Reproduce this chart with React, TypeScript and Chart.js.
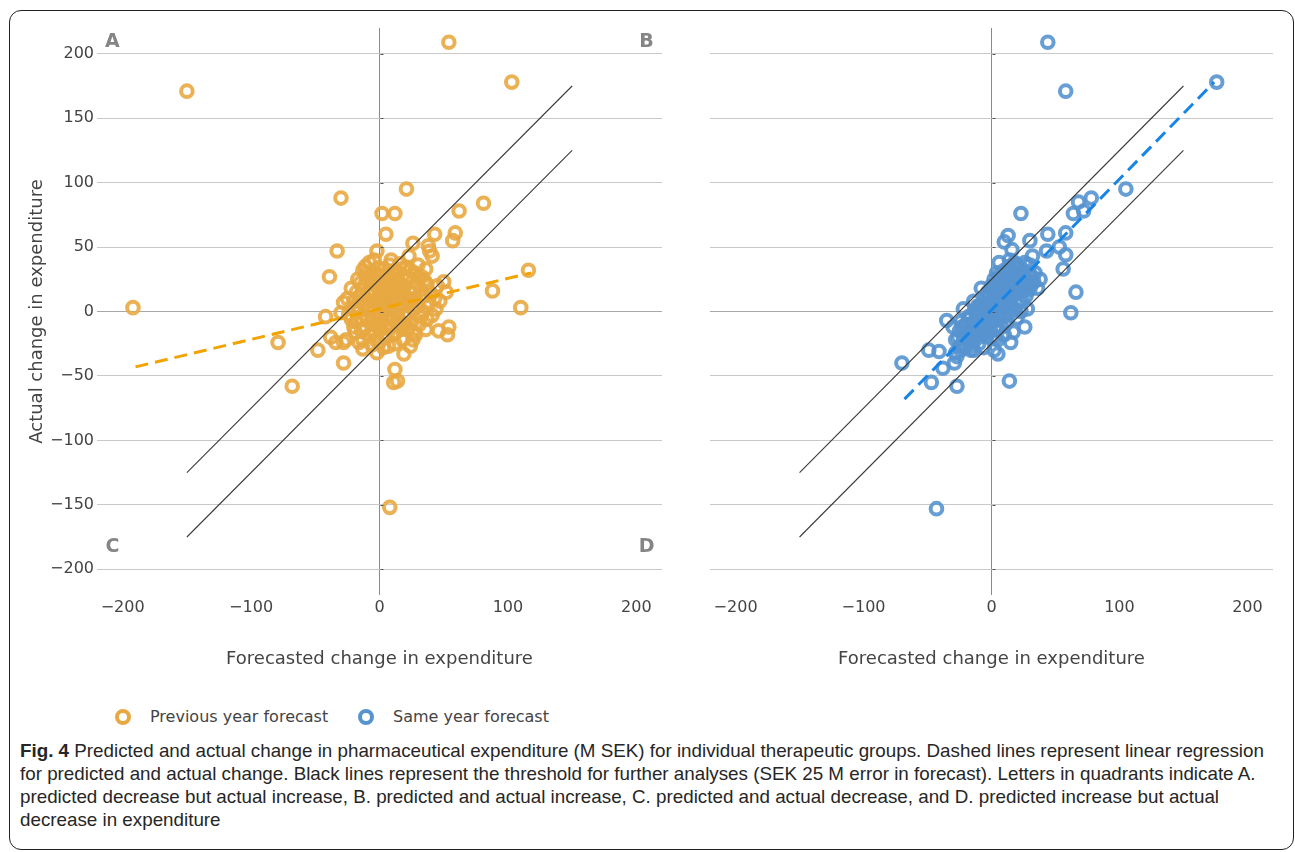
import React, { useEffect, useLayoutEffect, useRef } from 'react';
import { Chart, registerables } from 'chart.js';

Chart.register(...registerables);

// ---- Data (M SEK) ----
const prevForecast = [
  -192, -150, 54, 103, 21, -30, 2, 12, 81, 62, 5, 26, 43, 59, 57, -33, -2, 23, 38, 39, 41, -39, -11, 36, 50, 52, 88, 110, 116,
  -42, -28, -30, 37, 46, 53, 54, -38, -34, -28, -26, -48, -28, -13, -2, 7, 19, 24, 12, 11, 14, -79, -68, 8,
  -25, -22, -20, -18, -17, -15, -14, -12, -12, -10, -10, -9, -8, -7, -6, -5, -5, -4, -3, -3, -2, -1, 0, 0, 1, 1, 2, 2, 3, 4, 4,
  5, 5, 6, 6, 7, 8, 8, 9, 9, 10, 10, 11, 12, 12, 13, 14, 14, 15, 16, 16, 17, 18, 18, 19, 20, 20, 21, 22, 22, 23, 24, 25, 26,
  27, 28, 28, 29, 30, 31, 32, 33, 34, 35, 36, 37, 38, 40, 41, 43, 45, -16, -20, -24, -8, -13, 3, 12, 26, 30, 44, 47,
  -20, -18, -16, -15, -14, -12, -11, -10, -9, -8, -7, -6, -5, -4, -3, -2, -1, 0, 1, 2, 3, 4, 5, 6, 7, 8, 9, 10, 11, 12,
  13, 14, 15, 16, 17, 18, 19, 20, 21, 22, 23, 24, 25, 26, 27, 29, 30, 32, 33, 35, -22, -19, -13, -6, 0, 6, -17, -1, 9, -4,
];
const prevActual = [
  3, 171, 209, 178, 95, 88, 76, 76, 84, 78, 60, 53, 60, 61, 55, 47, 47, 43, 51, 47, 43, 27, 35, 33, 23, 15, 16, 3, 32,
  -4, 7, -1, -6, -15, -18, -12, -20, -24, -24, -22, -30, -40, -29, -32, -27, -33, -27, -45, -55, -54, -24, -58, -152,
  10, 18, 2, -8, 25, 12, -15, 5, 20, -5, 30, 14, -18, 8, 22, -10, 2, 16, 28, -22, 6, -4, 12, 20, -14, 3, 26, -8, 9, 33, -20,
  15, 0, -3, 22, 6, 36, -12, 11, 28, -6, 2, 18, 32, -17, 8, 24, -2, 14, 37, -10, 4, 28, -22, 12, 20, -4, 34, 6, -14, 26, 15, -8, 2,
  30, 10, -18, 22, 4, -10, 17, 27, 0, 12, -14, 21, 6, 14, -3, 10, 20, -24, -12, -2, 38, 32, -28, -25, -22, 36, 2, 8,
  8, 15, 0, 22, -6, 12, -12, 24, 2, 28, -8, 14, 30, -15, 8, 20, -10, 28, 16, -2, 22, 4, -12, 30, 18, -6, 24, 8, -18, 14,
  30, -8, 20, 6, -14, 16, 34, -10, 10, 26, -2, 32, 8, -16, 18, 4, 26, -4, 12, 24, -6, -16, -22, -26, -24, -18, 4, 34, 40, 40,
];

const sameForecast = [
  44, 58, 176, 105, 68, 78, 64, 72, 23, 13, 10, 16, 30, 44, 58, 53, 58, 43, 32, 6,
  -70, -35, -49, -41, -29, -38, -47, -27, 14, 5, 17, 62, -43, -25, -16, 56, 66, 31, 33, 30, 28,
  -28, -25, -24, -22, -20, -20, -18, -17, -15, -14, -13, -12, -11, -10, -9, -8, -7, -6, -5, -5, -4, -3, -3, -2, -1, 0, 0,
  1, 1, 2, 3, 3, 4, 5, 5, 6, 7, 7, 8, 9, 10, 10, 11, 12, 12, 13, 14, 14, 15, 16, 17, 18, 18, 19, 20, 21, 22, 23, 24, 25,
  26, 27, 28, 29, 30, 32, 34, -30, -27, -16, -10, 0, 5, 10, 15, -8, -14, 20, 23, 26, -6, 2, -22, 38, 36, 4, 8, -2, 12,
  -26, -23, -21, -19, -17, -15, -13, -12, -10, -9, -8, -7, -6, -5, -4, -3, -2, -1, 0, 1, 2, 3, 4, 5, 6, 7, 8, 9, 10, 11,
  12, 13, 14, 15, 16, 17, 18, 19, 20, 21, 22, 23, 24, 25, 26, 27, 28, -18, -11, 3, 8, -28, -24, 12, 30, 18, -14, 4, -2, 14,
];
const sameActual = [
  209, 171, 178, 95, 85, 88, 76, 78, 76, 59, 54, 48, 55, 60, 61, 50, 44, 47, 43, 38,
  -40, -7, -30, -31, -40, -44, -55, -58, -54, -33, -16, -1, -153, -27, -27, 33, 15, 28, 23, 17, 2,
  -22, -15, -30, -20, -10, -25, -16, -5, -20, -12, 0, -8, -18, -3, 5, -12, 2, -6, 10, -15, 0, 15, -10, 6, -4, 20, 2,
  10, -8, 25, 4, -14, 16, 8, -2, 28, 12, -5, 20, 3, 32, 15, -10, 24, 6, 18, 35, -2, 10, 26, 20, 2, 30, 14, 36, 22, 8, 28, 16, 32,
  24, 12, 36, 20, 28, 22, 30, -12, -35, -30, -25, -20, -22, -18, -24, 18, 8, -5, 0, -12, -28, -30, 2, 25, 18, 30, 12, 14, 4,
  -20, -12, -28, -18, -10, -24, -14, -2, -16, -8, 4, -18, -2, 6, -10, 2, 12, -6, 8, 18, -4, 12, 22, 2, 14, 26, 6, 18, -4, 22,
  30, 10, 24, 4, 32, 14, 24, 6, 28, 16, 34, 20, 8, 26, 38, 18, 28, -4, 4, -20, -12, -32, -8, -8, 36, 38, -30, -12, -16, 40,
];

const prevFitX = [-190, 118];
const prevFitY = [-43, 30];
const sameFitX = [-68, 174];
const sameFitY = [-68, 178];

const thresholdX = [-150, 150];
const thresholdMargin = 25;

const quadrantLabels = ['A', 'B', 'C', 'D'];
const quadrantX = [-208, 208, -208, 208];
const quadrantY = [209, 209, -183, -183];

const axisMin = -220;
const axisMax = 220;

const xAxisTitle = 'Forecasted change in expenditure';
const yAxisTitle = 'Actual change in expenditure';
const legendLabels = ['Previous year forecast', 'Same year forecast'];

const ORANGE = 'rgba(232, 168, 66, 0.9)';
const BLUE = 'rgba(86, 148, 207, 0.9)';
const ORANGE_LINE = '#f2a300';
const BLUE_LINE = '#1784e6';

const FONT = '"DejaVu Sans", Verdana, sans-serif';

const fmt = (v: number) => (v < 0 ? '\u2212' + Math.abs(v) : String(v));

const quadrantPlugin = {
  id: 'quadrants',
  afterDatasetsDraw(chart: any, _args: any, opts: any) {
    const { ctx, scales } = chart;
    // small tick marks along the vertical zero line
    ctx.save();
    ctx.strokeStyle = '#555';
    ctx.lineWidth = 1;
    const x0 = Math.round(scales.x.getPixelForValue(0)) + 0.5;
    scales.y.ticks.forEach((t: any) => {
      const yy = Math.round(scales.y.getPixelForValue(t.value)) + 0.5;
      ctx.beginPath();
      ctx.moveTo(x0, yy);
      ctx.lineTo(x0 + 3, yy);
      ctx.stroke();
    });
    ctx.restore();
    if (!opts || !opts.show) return;
    ctx.save();
    ctx.font = `bold 19px ${FONT}`;
    ctx.fillStyle = '#858585';
    ctx.textAlign = 'center';
    ctx.textBaseline = 'middle';
    quadrantLabels.forEach((t, i) => {
      ctx.fillText(t, scales.x.getPixelForValue(quadrantX[i]), scales.y.getPixelForValue(quadrantY[i]));
    });
    ctx.restore();
  },
};

type PanelProps = {
  left: number;
  width: number;
  height: number;
  forecast: number[];
  actual: number[];
  color: string;
  fitX: number[];
  fitY: number[];
  fitColor: string;
  yAxisWidth: number;
  padRight: number;
  showYTicks: boolean;
  showQuadrants: boolean;
};

function Panel(p: PanelProps) {
  const ref = useRef<HTMLCanvasElement | null>(null);
  useEffect(() => {
    if (!ref.current) return;
    const chart = new Chart(ref.current, {
      type: 'scatter',
      data: {
        datasets: [
          {
            type: 'line',
            data: thresholdX.map((x) => ({ x, y: x + thresholdMargin })),
            borderColor: '#3a3a3a',
            borderWidth: 1.1,
            pointRadius: 0,
            order: 0,
          } as any,
          {
            type: 'line',
            data: thresholdX.map((x) => ({ x, y: x - thresholdMargin })),
            borderColor: '#3a3a3a',
            borderWidth: 1.1,
            pointRadius: 0,
            order: 0,
          } as any,
          {
            type: 'line',
            data: p.fitX.map((x, i) => ({ x, y: p.fitY[i] })),
            borderColor: p.fitColor,
            borderWidth: 3,
            borderDash: [13, 7],
            pointRadius: 0,
            order: 1,
          } as any,
          {
            type: 'scatter',
            data: p.forecast.map((x, i) => ({ x, y: p.actual[i] })),
            pointRadius: 5.8,
            pointBorderWidth: 4,
            pointBorderColor: p.color,
            pointBackgroundColor: 'rgba(0,0,0,0)',
            pointHoverRadius: 5.8,
            order: 2,
          } as any,
        ],
      },
      options: {
        responsive: false,
        maintainAspectRatio: false,
        animation: false,
        layout: { padding: { left: 0, right: p.padRight, top: 28, bottom: 0 } },
        plugins: {
          legend: { display: false },
          tooltip: { enabled: false },
          quadrants: { show: p.showQuadrants },
        } as any,
        scales: {
          x: {
            type: 'linear',
            min: axisMin,
            max: axisMax,
            border: { display: false },
            grid: {
              drawTicks: false,
              color: (c: any) => (c.tick && c.tick.value === 0 ? '#8a8a8a' : 'rgba(0,0,0,0)'),
              lineWidth: 1,
            },
            ticks: {
              stepSize: 100,
              includeBounds: false,
              padding: 3,
              color: '#444',
              font: { family: FONT, size: 16 },
              maxRotation: 0,
              callback: (v: any) => fmt(Number(v)),
            },
            title: {
              display: true,
              text: xAxisTitle,
              color: '#444',
              font: { family: FONT, size: 18 },
              padding: { top: 0, bottom: 20 },
            },
            afterFit: (s: any) => {
              s.height = 95;
            },
          },
          y: {
            type: 'linear',
            min: axisMin,
            max: axisMax,
            border: { display: false },
            grid: {
              drawTicks: false,
              color: (c: any) => (c.tick && c.tick.value === 0 ? '#a8a8a8' : '#c9c9c9'),
              lineWidth: 1,
            },
            ticks: {
              display: p.showYTicks,
              stepSize: 50,
              includeBounds: false,
              padding: 3,
              color: '#444',
              font: { family: FONT, size: 16 },
              callback: (v: any) => fmt(Number(v)),
            },
            title: {
              display: p.showYTicks,
              text: yAxisTitle,
              color: '#444',
              font: { family: FONT, size: 18 },
              padding: { top: 27, bottom: 0 },
            },
            afterFit: (s: any) => {
              s.width = p.yAxisWidth;
            },
          },
        },
      } as any,
      plugins: [quadrantPlugin],
    });
    return () => chart.destroy();
  }, []);
  return (
    <canvas
      ref={ref}
      width={p.width}
      height={p.height}
      style={{ position: 'absolute', left: p.left, top: 0, width: p.width, height: p.height }}
    />
  );
}

const captionLines = [
  'Predicted and actual change in pharmaceutical expenditure (M SEK) for individual therapeutic groups. Dashed lines represent linear regression',
  'for predicted and actual change. Black lines represent the threshold for further analyses (SEK 25 M error in forecast). Letters in quadrants indicate A.',
  'predicted decrease but actual increase, B. predicted and actual increase, C. predicted and actual decrease, and D. predicted increase but actual',
  'decrease in expenditure',
];
const captionFirstLineWidth = 1244;

function Ring({ left, color }: { left: number; color: string }) {
  return (
    <span
      style={{
        position: 'absolute',
        left,
        top: 709,
        width: 16,
        height: 16,
        boxSizing: 'border-box',
        border: `4px solid ${color}`,
        borderRadius: '50%',
      }}
    />
  );
}

export default function App() {
  const capFont = '"Liberation Sans Narrow", "Liberation Sans", Arial, sans-serif';
  const lineRefs = useRef<(HTMLDivElement | null)[]>([]);
  useLayoutEffect(() => {
    const first = lineRefs.current[0];
    if (!first) return;
    const w = first.scrollWidth;
    const s = w > 0 ? captionFirstLineWidth / w : 1;
    lineRefs.current.forEach((el) => {
      if (el) el.style.transform = `scaleX(${s})`;
    });
  }, []);
  return (
    <div style={{ position: 'absolute', left: 0, top: 0, width: 1295, height: 852, background: '#fff', overflow: 'hidden' }}>
      <div
        style={{
          position: 'absolute',
          left: 9,
          top: 10,
          width: 1285,
          height: 840,
          boxSizing: 'border-box',
          border: '1.5px solid #222',
          borderRadius: 12,
        }}
      />
      <Panel
        left={0}
        width={690}
        height={690}
        forecast={prevForecast}
        actual={prevActual}
        color={ORANGE}
        fitX={prevFitX}
        fitY={prevFitY}
        fitColor={ORANGE_LINE}
        yAxisWidth={97}
        padRight={28}
        showYTicks={true}
        showQuadrants={true}
      />
      <Panel
        left={690}
        width={605}
        height={690}
        forecast={sameForecast}
        actual={sameActual}
        color={BLUE}
        fitX={sameFitX}
        fitY={sameFitY}
        fitColor={BLUE_LINE}
        yAxisWidth={20}
        padRight={22}
        showYTicks={false}
        showQuadrants={false}
      />
      <Ring left={115} color="rgb(232,168,66)" />
      <span style={{ position: 'absolute', left: 150, top: 707, fontFamily: FONT, fontSize: 16, lineHeight: '20px', color: '#444', whiteSpace: 'nowrap' }}>
        {legendLabels[0]}
      </span>
      <Ring left={358} color="rgb(86,148,207)" />
      <span style={{ position: 'absolute', left: 393, top: 707, fontFamily: FONT, fontSize: 16, lineHeight: '20px', color: '#444', whiteSpace: 'nowrap' }}>
        {legendLabels[1]}
      </span>
      {captionLines.map((line, i) => (
        <div
          key={i}
          ref={(el) => {
            lineRefs.current[i] = el;
          }}
          style={{
            position: 'absolute',
            left: 20,
            top: 739 + i * 23,
            fontFamily: capFont,
            fontSize: 19,
            lineHeight: '23px',
            color: '#262626',
            whiteSpace: 'nowrap',
            transformOrigin: '0 50%',
          }}
        >
          {i === 0 ? <b>Fig. 4 </b> : null}
          {line}
        </div>
      ))}
    </div>
  );
}
